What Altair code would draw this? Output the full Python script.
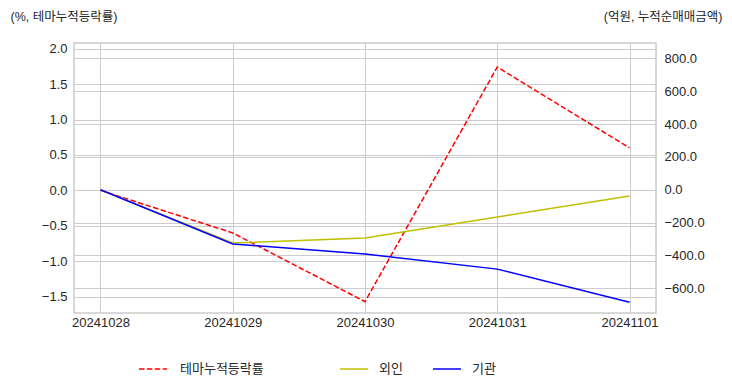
import altair as alt
import pandas as pd

dates = ["20241028", "20241029", "20241030", "20241031", "20241101"]
theme_pct = [0.0, -0.60, -1.57, 1.74, 0.60]
foreign_amt = [0.0, -324.0, -294.0, -166.0, -38.0]
inst_amt = [0.0, -330.0, -391.0, -483.0, -684.0]

left_ticks = [-1.5, -1.0, -0.5, 0.0, 0.5, 1.0, 1.5, 2.0]
right_ticks = [-600, -400, -200, 0, 200, 400, 600, 800]

FONT = "Liberation Sans, Noto Sans CJK KR, sans-serif"
TXT = "#262626"
GRID = "#cccccc"

theme_df = pd.DataFrame({"date": dates, "value": theme_pct, "series": ["테마누적등락률"] * 5})
for_df = pd.DataFrame({"date": dates, "value": foreign_amt, "series": ["외인"] * 5})
inst_df = pd.DataFrame({"date": dates, "value": inst_amt, "series": ["기관"] * 5})

x_enc = alt.X(
    "date:N",
    sort=dates,
    scale=alt.Scale(type="point", padding=0.2),
    axis=alt.Axis(title=None, labelAngle=0, grid=True, gridColor=GRID, ticks=False,
                  domain=False, labelPadding=3),
)

left_scale = alt.Scale(domain=[-1.73, 2.08], nice=False, zero=False)
right_scale = alt.Scale(domain=[-750, 893], nice=False, zero=False)

left = alt.Chart(theme_df).mark_line(color="#ff0000", strokeWidth=1.5).encode(
    x=x_enc,
    y=alt.Y("value:Q", scale=left_scale,
            axis=alt.Axis(orient="left", values=left_ticks, format=".1f",
                          title="(%, 테마누적등락률)", titleAngle=0, titleAlign="left",
                          titleX=-64, titleY=-27, titleBaseline="middle",
                          grid=True, gridColor=GRID, ticks=False, domain=False,
                          labelPadding=7)),
    strokeDash=alt.StrokeDash(
        "series:N",
        scale=alt.Scale(domain=["테마누적등락률"], range=[[5.5, 2.4]]),
        legend=alt.Legend(title=None, orient="none", legendX=64, legendY=311,
                          symbolType="stroke", symbolStrokeColor="#ff0000",
                          symbolSize=784, symbolStrokeWidth=1.5, labelOffset=12),
    ),
)

color_enc = alt.Color(
    "series:N",
    scale=alt.Scale(domain=["외인", "기관"], range=["#bfbf00", "#0000ff"]),
    legend=alt.Legend(title=None, orient="none", legendX=265, legendY=311,
                      direction="horizontal", symbolType="stroke", symbolSize=784,
                      symbolStrokeWidth=1.5, labelOffset=10, columnPadding=27),
)

yellow = alt.Chart(for_df).mark_line(strokeWidth=1.5).encode(
    x=x_enc,
    y=alt.Y("value:Q", scale=right_scale,
            axis=alt.Axis(orient="right", values=right_ticks, format=".1f",
                          title="(억원, 누적순매매금액)", titleAngle=0, titleAlign="right",
                          titleX=66, titleY=-27, titleBaseline="middle",
                          grid=True, gridColor=GRID, ticks=False, domain=False,
                          labelPadding=8)),
    color=color_enc,
)

blue = alt.Chart(inst_df).mark_line(strokeWidth=1.5).encode(
    x=x_enc,
    y=alt.Y("value:Q", scale=right_scale, axis=None),
    color=color_enc,
)

chart = (
    alt.layer(left, yellow, blue)
    .resolve_scale(y="independent", strokeDash="independent")
    .properties(
        width=582, height=270,
        autosize=alt.AutoSizeParams(type="none"),
        padding={"left": 66, "top": 35, "right": 68, "bottom": 71},
    )
    .configure_axis(labelFont=FONT, titleFont=FONT, labelFontSize=13, titleFontSize=12.5,
                    labelColor=TXT, titleColor=TXT, titleFontWeight="normal")
    .configure_legend(labelFont=FONT, labelFontSize=13, labelColor=TXT)
    .configure_view(stroke=GRID, strokeWidth=1.5)
)

chart.save("out.html", embed_options={"renderer": "svg", "actions": False})
